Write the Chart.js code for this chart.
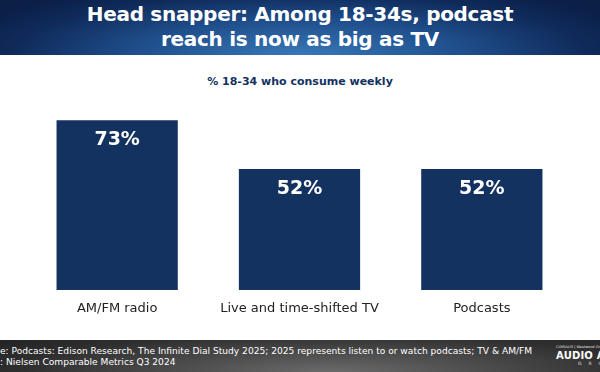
<!DOCTYPE html>
<html>
<head>
<meta charset="utf-8">
<script src="https://cdn.jsdelivr.net/npm/chart.js@4"></script>
<style>
  html, body { margin: 0; padding: 0; }
  body { width: 600px; height: 372px; position: relative; overflow: hidden; background: #fff; font-family: "DejaVu Sans", sans-serif; }
  #header {
    position: absolute; left: 0; top: 0; width: 600px; height: 55px;
    background: radial-gradient(ellipse 60% 140% at 50% 100%, #3a78b8 0%, #1f4f8c 45%, #0f2a5a 80%, #0b1f47 100%);
    color: #fff; text-align: center;
    font-family: "DejaVu Sans", sans-serif; font-weight: bold; font-size: 20px; line-height: 25px;
    padding-top: 2px; box-sizing: border-box; letter-spacing: -0.3px;
  }
  #subtitle {
    position: absolute; left: 0; top: 75px; width: 600px; text-align: center;
    color: #13325f; font-weight: bold; font-size: 11px; font-family: "DejaVu Sans", sans-serif;
  }
  #chart-wrap { position: absolute; left: 0; top: 100px; width: 600px; height: 220px; }
  #footer {
    position: absolute; left: 0; top: 340px; width: 600px; height: 32px; overflow: hidden;
    background: radial-gradient(ellipse 70% 160% at 55% 100%, #6a6a6a 0%, #4a4a4a 40%, #2e2e2e 75%, #242424 100%);
    color: #fff; font-size: 9.1px; line-height: 10.5px; font-family: "DejaVu Sans", sans-serif;
  }
  #source { position: absolute; left: 0; top: 6px; white-space: nowrap; }
  #logo { position: absolute; left: 556px; top: 5px; white-space: nowrap; color: #fff; }
  #logo .top { font-size: 3.5px; line-height: 5px; opacity: 0.85; }
  #logo .main { font-size: 10px; font-weight: bold; line-height: 11px; letter-spacing: 0.2px; }
  #logo .grp { font-size: 4.5px; line-height: 6px; letter-spacing: 7px; padding-left: 22px; opacity: 0.8; }
</style>
</head>
<body>
<div id="header">Head snapper: Among 18-34s, podcast<br>reach is now as big as TV</div>
<div id="subtitle">% 18-34 who consume weekly</div>
<div id="chart-wrap"><canvas id="bar-chart"></canvas></div>
<div id="footer">
  <div id="source">e: Podcasts: Edison Research, The Infinite Dial Study 2025; 2025 represents listen to or watch podcasts; TV &amp; AM/FM<br>: Nielsen Comparable Metrics Q3 2024</div>
  <div id="logo"><div class="top">CUMULUS | Westwood One</div><div class="main">AUDIO ACTIVE</div><div class="grp">GROUP</div></div>
</div>
<script>
var categories = ["AM/FM radio", "Live and time-shifted TV", "Podcasts"];
var reach = [73, 52, 52];

// white % label inside the top of each bar
var valueLabels = {
    id: "valueLabels",
    afterDatasetsDraw: function(chart) {
        var ctx = chart.ctx;
        var meta = chart.getDatasetMeta(0);
        ctx.save();
        ctx.fillStyle = "#ffffff";
        ctx.font = "bold 19px 'DejaVu Sans', sans-serif";
        ctx.textAlign = "center";
        ctx.textBaseline = "middle";
        meta.data.forEach(function(bar, i) {
            ctx.fillText(reach[i] + "%", bar.x, bar.y + 20);
        });
        ctx.restore();
    }
};

document.addEventListener("DOMContentLoaded", function () {
    var Target = document.getElementById("bar-chart");
    new Chart(Target, {
        type: "bar",
        data: {
            labels: categories,
            datasets: [{
                label: "% 18-34 who consume weekly",
                data: reach,
                backgroundColor: "#13325f",
                borderWidth: 0,
                categoryPercentage: 1,
                barPercentage: 0.665
            }]
        },
        options: {
            maintainAspectRatio: false,
            responsive: true,
            animation: false,
            layout: { padding: { left: 26, right: 27, top: 4, bottom: 0 } },
            scales: {
                x: {
                    grid: { display: false },
                    border: { display: false },
                    ticks: {
                        color: "#222222",
                        padding: 3,
                        font: { family: "'DejaVu Sans', sans-serif", size: 13 }
                    },
                    afterFit: function(scale) { scale.height = 30; }
                },
                y: { display: false, min: 0, max: 80 }
            },
            plugins: {
                legend: { display: false },
                tooltip: { enabled: false }
            }
        },
        plugins: [valueLabels]
    });
});
</script>
</body>
</html>
